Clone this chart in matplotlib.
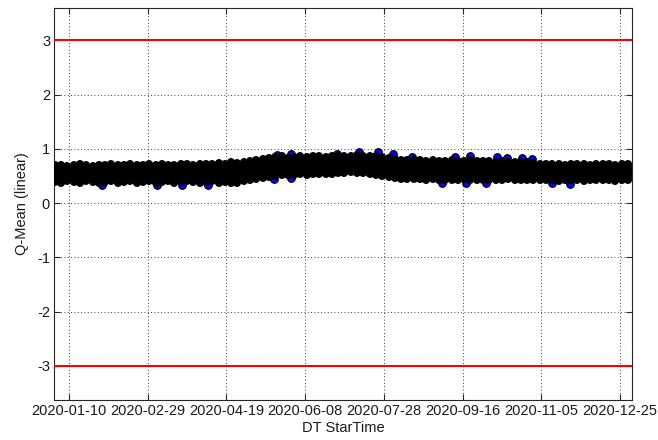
import numpy as np
import pandas as pd
import matplotlib
matplotlib.use("Agg")
import matplotlib.pyplot as plt
import matplotlib.dates as mdates

plt.rcParams['font.family'] = ['Liberation Sans', 'DejaVu Sans']
plt.rcParams['axes.unicode_minus'] = False

# sample days (every 4 days through 2020) and the spread of Q-Mean on each
sample_days = pd.date_range("2020-01-01", periods=92, freq="4D")

q_high = [
    0.70, 0.71, 0.69, 0.70, 0.72, 0.70, 0.69, 0.71,
    0.71, 0.72, 0.70, 0.71, 0.73, 0.71, 0.70, 0.72,
    0.71, 0.72, 0.70, 0.71, 0.72, 0.73, 0.71, 0.72,
    0.73, 0.72, 0.74, 0.73, 0.75, 0.74, 0.76, 0.77,
    0.79, 0.81, 0.84, 0.85,
    0.86, 0.84, 0.85, 0.86, 0.85, 0.87, 0.86, 0.85, 0.86, 0.87,
    0.87, 0.86, 0.88, 0.87, 0.86, 0.87, 0.85, 0.83,
    0.81, 0.80, 0.79, 0.80, 0.79,
    0.78, 0.79, 0.77, 0.78, 0.79, 0.78, 0.77, 0.79, 0.78, 0.77,
    0.77, 0.76, 0.77, 0.76, 0.75, 0.76, 0.75, 0.74,
    0.73, 0.72, 0.73, 0.72, 0.71, 0.72, 0.73, 0.72, 0.71, 0.72,
    0.73, 0.72, 0.71, 0.72, 0.72,
]
q_low = [
    0.39, 0.38, 0.40, 0.39, 0.38, 0.40, 0.39, 0.38,
    0.39, 0.40, 0.38, 0.39, 0.40, 0.38, 0.39, 0.40,
    0.38, 0.39, 0.40, 0.38, 0.39, 0.40, 0.39, 0.38,
    0.39, 0.40, 0.38, 0.39, 0.37, 0.38, 0.40, 0.42,
    0.45, 0.47, 0.49, 0.50,
    0.51, 0.52, 0.51, 0.53, 0.52, 0.53, 0.54, 0.53, 0.54, 0.55,
    0.56, 0.57, 0.56, 0.55, 0.54, 0.52, 0.50, 0.48,
    0.46, 0.45, 0.44, 0.45, 0.44,
    0.43, 0.44, 0.42, 0.43, 0.42, 0.43, 0.44, 0.42, 0.43, 0.42,
    0.43, 0.42, 0.43, 0.44, 0.42, 0.43, 0.42, 0.43,
    0.42, 0.43, 0.42, 0.41, 0.42, 0.43, 0.42, 0.41, 0.42, 0.43,
    0.42, 0.42, 0.41, 0.42, 0.42,
]

# single samples sticking out of the band
peak_days = ["2020-05-21", "2020-05-30", "2020-06-28", "2020-07-12", "2020-07-24",
             "2020-08-03", "2020-08-15", "2020-09-11", "2020-09-21", "2020-10-08",
             "2020-10-14", "2020-10-24", "2020-10-30",
             "2020-01-31", "2020-03-06", "2020-03-22", "2020-04-07", "2020-05-19",
             "2020-05-30", "2020-09-03", "2020-09-18", "2020-10-01", "2020-11-12",
             "2020-11-23"]
peak_vals = [0.89, 0.90, 0.91, 0.95, 0.95,
             0.91, 0.85, 0.85, 0.86, 0.85,
             0.84, 0.84, 0.81,
             0.33, 0.33, 0.34, 0.34, 0.45,
             0.47, 0.37, 0.38, 0.37, 0.37,
             0.36]

limit_hi = 3
limit_lo = -3
x_ticks = ["2020-01-10", "2020-02-29", "2020-04-19", "2020-06-08",
           "2020-07-28", "2020-09-16", "2020-11-05", "2020-12-25"]
y_ticks = [-3, -2, -1, 0, 1, 2, 3]

fig = plt.figure(figsize=(6.58, 4.40), dpi=100)
ax = fig.add_axes([0.0825, 0.091, 0.8775, 0.891])

ax.plot(pd.to_datetime(peak_days), peak_vals, 'o', linestyle='none',
        markersize=5.5, markerfacecolor='#0000ff', markeredgecolor='k',
        markeredgewidth=0.8, zorder=3)
ax.vlines(sample_days, q_low, q_high, colors='k', linewidth=5.8,
          capstyle='round', zorder=4)

ax.axhline(limit_hi, color='#ff0000', linewidth=1.5, zorder=5)
ax.axhline(limit_lo, color='#ff0000', linewidth=1.5, zorder=5)

ax.set_xlim(pd.Timestamp("2019-12-31 16:00"), pd.Timestamp("2021-01-01 10:00"))
ax.set_ylim(-3.63, 3.6)
ax.set_xticks(pd.to_datetime(x_ticks))
ax.xaxis.set_major_formatter(mdates.DateFormatter("%Y-%m-%d"))
ax.set_yticks(y_ticks)

ax.grid(True, color='k', linestyle=(0, (1, 3)), linewidth=0.6)
ax.set_axisbelow(True)
ax.tick_params(direction='in', length=4, width=0.8, top=True, right=True,
               labelsize=10.5, colors='#262626', labelcolor='#1a1a1a', pad=3)
for s in ax.spines.values():
    s.set_color('#262626')
    s.set_linewidth(0.8)

ax.set_xlabel("DT StarTime", fontsize=10.5, color='#1a1a1a', labelpad=2)
ax.set_ylabel("Q-Mean (linear)", fontsize=10.5, color='#1a1a1a', labelpad=6)

fig.savefig("out.png", dpi=100)
